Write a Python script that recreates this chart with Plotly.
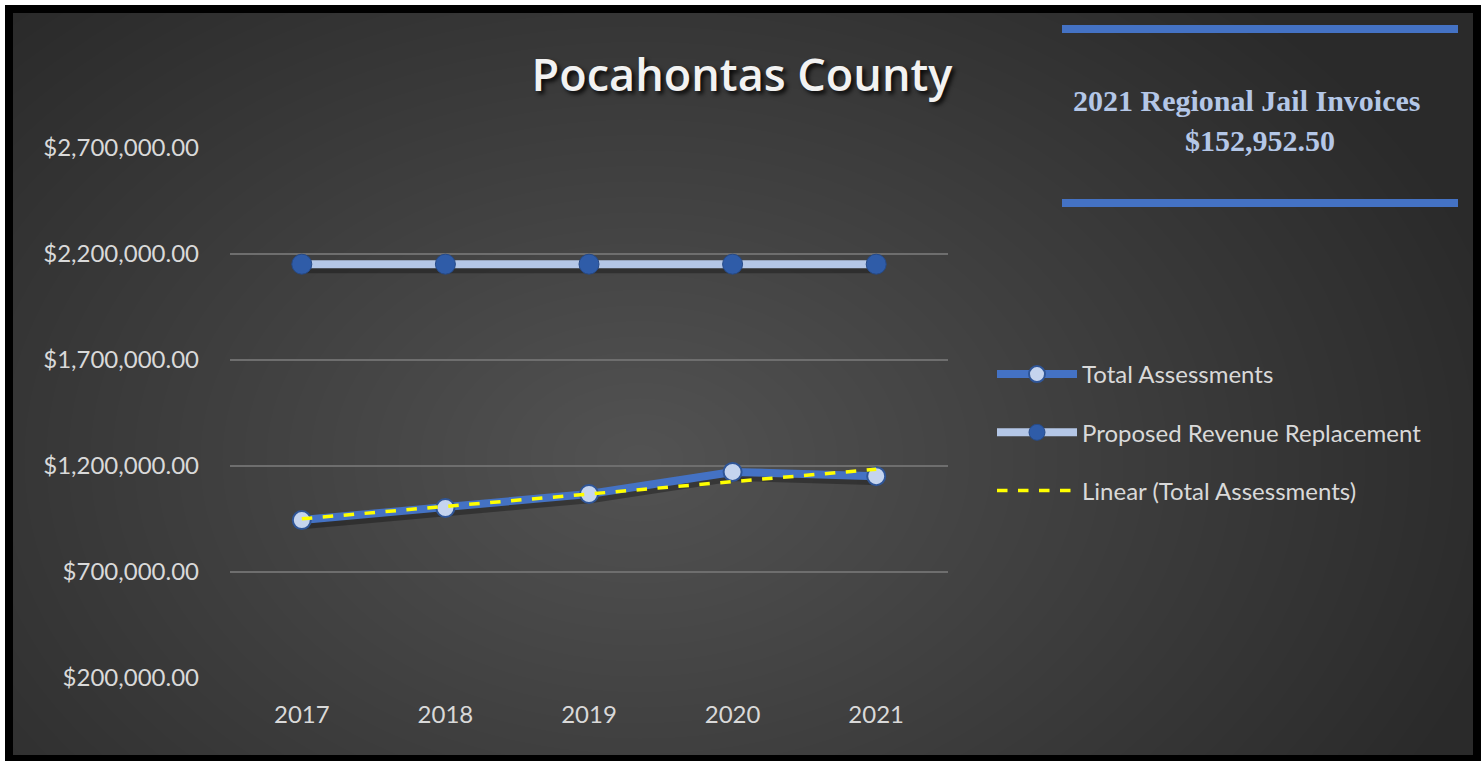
import numpy as np
import plotly.graph_objects as go

# ---------------- data ----------------
years = ["2017", "2018", "2019", "2020", "2021"]
total_assessments = [945000, 1002000, 1068000, 1172000, 1152000]
proposed_revenue = [2152000, 2152000, 2152000, 2152000, 2152000]
y_ticks = [200000, 700000, 1200000, 1700000, 2200000, 2700000]
y_tick_labels = ["$200,000.00", "$700,000.00", "$1,200,000.00", "$1,700,000.00",
                 "$2,200,000.00", "$2,700,000.00"]
title_text = "Pocahontas County"
box_line1 = "2021 Regional Jail Invoices"
box_line2 = "$152,952.50"

# ---------------- geometry helpers ----------------
W, H = 1481, 761
L, R, T, B = 230, 948, 148, 678


def xp(px):
    return (px - L) / (R - L)


def yp(py):
    return (B - py) / (B - T)


x_idx = np.arange(len(years))
# linear trendline of total assessments (as Excel does)
slope, intercept = np.polyfit(x_idx, total_assessments, 1)
trend = slope * x_idx + intercept

# shadow offsets (in data units)
sdx = 3 / ((R - L) / 5)
sdy = -4 * (y_ticks[-1] - y_ticks[0]) / (B - T)

fig = go.Figure()

# shadows
fig.add_trace(go.Scatter(x=x_idx + sdx, y=np.array(proposed_revenue) + sdy, mode="lines",
                         line=dict(color="rgba(0,0,0,0.3)", width=10), showlegend=False, hoverinfo="skip"))
fig.add_trace(go.Scatter(x=x_idx + sdx, y=np.array(total_assessments) + sdy, mode="lines",
                         line=dict(color="rgba(0,0,0,0.3)", width=10), showlegend=False, hoverinfo="skip"))

fig.add_trace(go.Scatter(
    x=x_idx, y=total_assessments, mode="lines+markers", name="Total Assessments",
    line=dict(color="#4472C4", width=8),
    marker=dict(size=18, color="#C5D4EE", line=dict(color="#2F5597", width=2)),
    legendgroup="a"))
fig.add_trace(go.Scatter(
    x=x_idx, y=proposed_revenue, mode="lines+markers", name="Proposed Revenue Replacement",
    line=dict(color="#B4C7E7", width=8),
    marker=dict(size=20, color="#2F5CA8", line=dict(color="#264A88", width=1)),
    legendgroup="b"))
fig.add_trace(go.Scatter(
    x=x_idx, y=trend, mode="lines", name="Linear (Total Assessments)",
    line=dict(color="#FFFF00", width=3.5, dash="dash"),
    legendgroup="c"))

# ---------------- background shapes ----------------
shapes = []
cx, cy = 640, 460
rx0, ry0 = 880, 620
N = 40
for i in range(N):
    f = 1 - i / N
    shapes.append(dict(type="circle", xref="paper", yref="paper",
                       x0=xp(cx - rx0 * f), x1=xp(cx + rx0 * f),
                       y0=yp(cy + ry0 * f), y1=yp(cy - ry0 * f),
                       fillcolor="white", opacity=0.0064, line_width=0, layer="below"))
# black frame
shapes.append(dict(type="rect", xref="paper", yref="paper",
                   x0=xp(9), x1=xp(1477), y0=yp(759), y1=yp(9),
                   line=dict(color="black", width=8), fillcolor="rgba(0,0,0,0)", layer="below"))
# white strips outside frame
shapes.append(dict(type="rect", xref="paper", yref="paper",
                   x0=xp(-5), x1=xp(1486), y0=yp(5), y1=yp(-5),
                   line_width=0, fillcolor="white", layer="below"))
shapes.append(dict(type="rect", xref="paper", yref="paper",
                   x0=xp(-5), x1=xp(5), y0=yp(766), y1=yp(-5),
                   line_width=0, fillcolor="white", layer="below"))
# blue lines of the top-right box
for py in (29, 203):
    shapes.append(dict(type="line", xref="paper", yref="paper",
                       x0=xp(1062), x1=xp(1458), y0=yp(py), y1=yp(py),
                       line=dict(color="#4472C4", width=8), layer="above"))

annotations = [
    dict(text="<b>" + box_line1 + "</b>", x=xp(1247), y=yp(101), xref="paper", yref="paper",
         showarrow=False, xanchor="center", yanchor="middle",
         font=dict(family="Liberation Serif", size=30, color="#B4C7E7")),
    dict(text="<b>" + box_line2 + "</b>", x=xp(1260), y=yp(140), xref="paper", yref="paper",
         showarrow=False, xanchor="center", yanchor="middle",
         font=dict(family="Liberation Serif", size=30, color="#B4C7E7")),
]

fig.update_layout(
    width=W, height=H,
    margin=dict(l=L, r=W - R, t=T, b=H - B, pad=0),
    paper_bgcolor="#2A2A2A",
    plot_bgcolor="rgba(0,0,0,0)",
    shapes=shapes,
    annotations=annotations,
    title=dict(text=title_text, x=742 / W, y=1 - 75 / H, xanchor="center", yanchor="middle",
               xref="container", yref="container",
               font=dict(family="Open Sans", size=45, color="#F2F2F2", weight=600,
                         shadow="3px 3px 4px rgba(0,0,0,0.85)")),
    xaxis=dict(range=[-0.5, 4.5], tickvals=list(x_idx), ticktext=years,
               showgrid=False, zeroline=False, showline=False, ticks="",
               ticklabelstandoff=20,
               tickfont=dict(family="Lato", size=24, color="#D9D9D9")),
    yaxis=dict(range=[y_ticks[0], y_ticks[-1]], tickvals=y_ticks, ticktext=y_tick_labels,
               showgrid=True, gridcolor="#6E6E6E", gridwidth=1.5, zeroline=False, showline=False,
               ticks="", ticklabelstandoff=30,
               tickfont=dict(family="Lato", size=24, color="#D9D9D9")),
    legend=dict(x=xp(992), y=yp(352), xanchor="left", yanchor="top", xref="paper", yref="paper",
                bgcolor="rgba(0,0,0,0)", font=dict(family="Lato", size=24, color="#D9D9D9"),
                traceorder="grouped", tracegroupgap=24, itemwidth=80),
    hovermode=False,
)

fig.write_html("out.html", config={"displayModeBar": False},
               post_script="document.body.style.margin='0px';document.body.style.overflow='hidden';")
